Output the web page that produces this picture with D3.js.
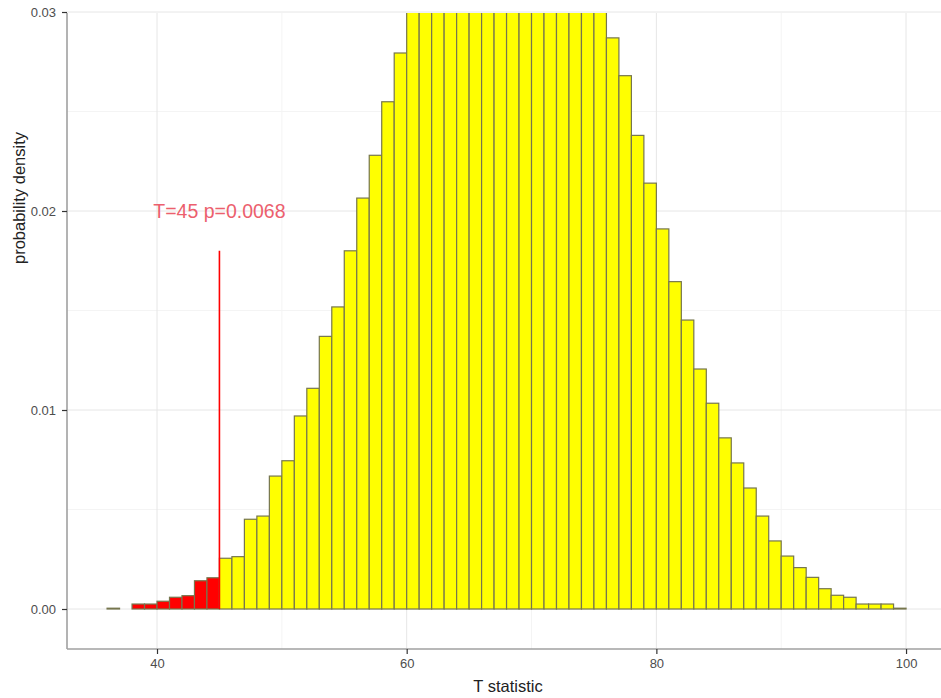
<!DOCTYPE html>
<html>
<head>
<meta charset="utf-8">
<script src="https://cdn.jsdelivr.net/npm/d3@7"></script>
<style>
  body { margin: 0; background: #fff; }
  svg { display: block; font-family: "Liberation Sans", Arial, sans-serif; }
</style>
</head>
<body>
<div id="chart"></div>
<script>
// bin left edges (binwidth 1)
const binStarts = [
  36, 37, 38, 39, 40, 41, 42, 43, 44, 45, 46, 47, 48, 49, 50, 51,
  52, 53, 54, 55, 56, 57, 58, 59, 60, 61, 62, 63, 64, 65, 66, 67,
  68, 69, 70, 71, 72, 73, 74, 75, 76, 77, 78, 79, 80, 81, 82, 83,
  84, 85, 86, 87, 88, 89, 90, 91, 92, 93, 94, 95, 96, 97, 98, 99
];
const density = [
  0.00004, 0, 0.00025, 0.00025, 0.00039, 0.00059, 0.00067, 0.00142,
  0.00157, 0.00255, 0.00263, 0.00451, 0.00467, 0.00668, 0.00745, 0.0097,
  0.01109, 0.0137, 0.01518, 0.018, 0.02065, 0.0228, 0.02549, 0.02794,
  0.0305, 0.0330, 0.0352, 0.0370, 0.0387, 0.0396, 0.0404, 0.0407,
  0.0405, 0.0400, 0.0392, 0.0381, 0.0364, 0.0347, 0.0328, 0.0307,
  0.0287, 0.0268, 0.0238, 0.0214, 0.0191, 0.01645, 0.01452, 0.01206,
  0.01034, 0.0086, 0.00734, 0.00608, 0.00467, 0.00342, 0.00266, 0.00208,
  0.00159, 0.00102, 0.00069, 0.00059, 0.00025, 0.00025, 0.00025, 0.00004
];
const xTicks = [40, 60, 80, 100];
const xMinor = [50, 70, 90];
const yTicks = [0, 0.01, 0.02, 0.03];
const yMinor = [0.005, 0.015, 0.025];
const tObs = 45;
const pValue = "0.0068";
const lineTop = 0.018;
const labelY = 0.02;

const W = 941, H = 698;
const pLeft = 67, pRight = 941, pTop = 13, pBottom = 649;

const x = d3.scaleLinear().domain([32.79, 102.8]).range([pLeft, pRight]);
const y = d3.scaleLinear().domain([-0.00201, 0.02995]).range([pBottom, pTop]);

const svg = d3.select("#chart").append("svg")
  .attr("width", W)
  .attr("height", H);

svg.append("defs").append("clipPath").attr("id", "panel")
  .append("rect")
  .attr("x", pLeft).attr("y", pTop)
  .attr("width", pRight - pLeft).attr("height", pBottom - pTop);

// grid
const grid = svg.append("g");
grid.selectAll(".vmin").data(xMinor).enter().append("line")
  .attr("x1", d => x(d)).attr("x2", d => x(d))
  .attr("y1", pTop).attr("y2", pBottom)
  .attr("stroke", "#f4f4f4").attr("stroke-width", 1);
grid.selectAll(".hmin").data(yMinor).enter().append("line")
  .attr("x1", pLeft).attr("x2", pRight)
  .attr("y1", d => y(d)).attr("y2", d => y(d))
  .attr("stroke", "#f4f4f4").attr("stroke-width", 1);
grid.selectAll(".vmaj").data(xTicks).enter().append("line")
  .attr("x1", d => x(d)).attr("x2", d => x(d))
  .attr("y1", pTop).attr("y2", pBottom)
  .attr("stroke", "#e6e6e6").attr("stroke-width", 1);
grid.selectAll(".hmaj").data(yTicks).enter().append("line")
  .attr("x1", pLeft).attr("x2", pRight)
  .attr("y1", d => y(d)).attr("y2", d => y(d))
  .attr("stroke", "#e6e6e6").attr("stroke-width", 1);

// bars
const bins = binStarts.map((s, i) => ({ x0: s, x1: s + 1, v: density[i] }));
svg.append("g").attr("clip-path", "url(#panel)")
  .selectAll("rect").data(bins).enter().append("rect")
  .attr("x", d => x(d.x0))
  .attr("width", d => x(d.x1) - x(d.x0))
  .attr("y", d => y(d.v))
  .attr("height", d => y(0) - y(d.v))
  .attr("fill", d => d.x0 < tObs ? "#ff0000" : "#ffff00")
  .attr("stroke", "#76764e")
  .attr("stroke-width", 1.2);

// observed statistic
svg.append("line")
  .attr("x1", x(tObs)).attr("x2", x(tObs))
  .attr("y1", y(0)).attr("y2", y(lineTop))
  .attr("stroke", "#ff0000").attr("stroke-width", 1.6);

svg.append("text")
  .attr("x", x(tObs))
  .attr("y", y(labelY))
  .attr("dy", "0.36em")
  .attr("text-anchor", "middle")
  .attr("font-size", 19.5)
  .attr("fill", "#ec5f6e")
  .text(`T=${tObs} p=${pValue}`);

// axes
const xAxis = svg.append("g")
  .attr("transform", `translate(0,${pBottom})`)
  .call(d3.axisBottom(x).tickValues(xTicks).tickSize(5).tickPadding(5).tickFormat(d3.format("d")));
const yAxis = svg.append("g")
  .attr("transform", `translate(${pLeft},0)`)
  .call(d3.axisLeft(y).tickValues(yTicks).tickSize(5).tickPadding(6).tickFormat(d3.format(".2f")));

[xAxis, yAxis].forEach(a => {
  a.select(".domain").attr("stroke", "#a0a0a0").attr("stroke-width", 1.6);
  a.selectAll(".tick line").attr("stroke", "#333").attr("stroke-width", 1.2);
  a.selectAll(".tick text").attr("fill", "#4d4d4d").attr("font-size", 13)
    .attr("font-family", "Liberation Sans, Arial, sans-serif");
});
xAxis.select(".domain").attr("d", `M${pLeft},0H${pRight}`);
yAxis.select(".domain").attr("d", `M0,${pTop}V${pBottom}`);

// titles
svg.append("text")
  .attr("x", 508).attr("y", 686)
  .attr("dy", "0.36em")
  .attr("text-anchor", "middle")
  .attr("font-size", 16.5)
  .attr("fill", "#222")
  .text("T statistic");

svg.append("text")
  .attr("transform", "translate(19,198) rotate(-90)")
  .attr("dy", "0.36em")
  .attr("text-anchor", "middle")
  .attr("font-size", 16.5)
  .attr("fill", "#222")
  .text("probability density");
</script>
</body>
</html>
